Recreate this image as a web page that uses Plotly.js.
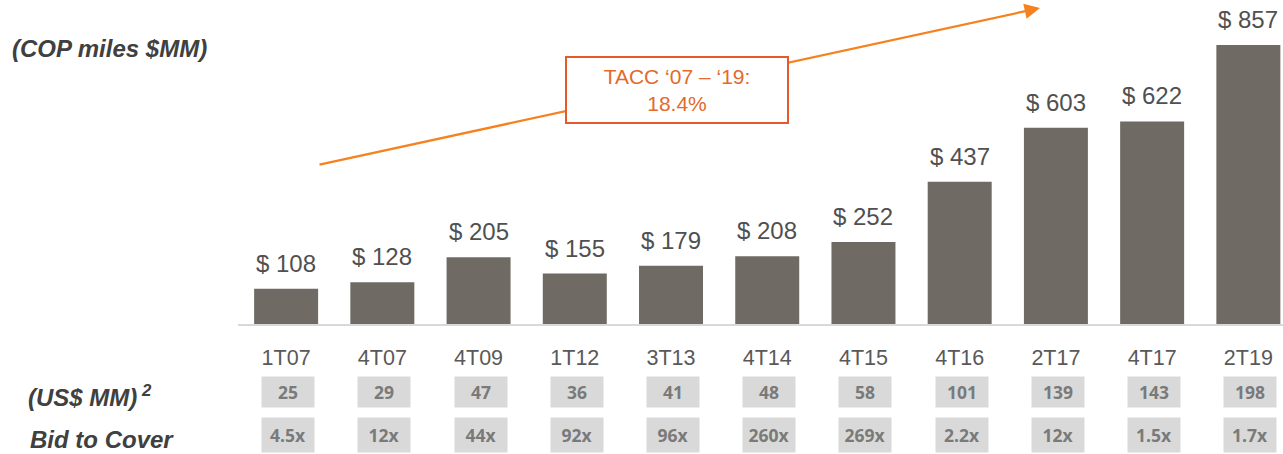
<!DOCTYPE html>
<html><head><meta charset="utf-8">
<script src="https://cdn.plot.ly/plotly-3.0.1.min.js"></script>
<style>body{margin:0;background:#fff}#chart{width:1283px;height:454px}</style>
</head><body><div id="chart"></div>
<script>
const categories = ["1T07","4T07","4T09","1T12","3T13","4T14","4T15","4T16","2T17","4T17","2T19"];
const copValues = [108,128,205,155,179,208,252,437,603,622,857];
const usdValues = ["25","29","47","36","41","48","58","101","139","143","198"];
const bidToCover = ["4.5x","12x","44x","92x","96x","260x","269x","2.2x","12x","1.5x","1.7x"];

const FONT = "Liberation Sans, Arial, sans-serif";
const BOXFONT = {family: "Open Sans, sans-serif", size: 17.5, color: "#7a7a7a"};
const trace = {
  type: "bar", x: categories, y: copValues,
  marker: {color: "#6f6a63"}, width: 0.665,
  hoverinfo: "none"
};

const ann = [];
categories.forEach((c, i) => {
  ann.push({x: c, xref: "x", y: copValues[i], yref: "y", yanchor: "bottom", yshift: 10, showarrow: false,
    text: "$ " + copValues[i], font: {family: FONT, size: 24, color: "#505050"}});
  ann.push({x: c, xref: "x", y: -0.21, yref: "paper", yanchor: "middle", xshift: 2, showarrow: false,
    text: "<b>" + usdValues[i] + "</b>", font: BOXFONT,
    bgcolor: "#d9d9d9", width: 50, height: 28});
  ann.push({x: c, xref: "x", y: -0.343, yref: "paper", yanchor: "middle", xshift: 2, showarrow: false,
    text: "<b>" + bidToCover[i] + "</b>", font: BOXFONT,
    bgcolor: "#d9d9d9", width: 50, height: 32});
});
// left labels
ann.push({x: (10-238)/1045, xref: "paper", y: (324-48)/324, yref: "paper", xanchor: "left", yanchor: "middle",
  showarrow: false, text: "<b><i>(COP miles $MM)</i></b>", font: {family: FONT, size: 24, color: "#404040"}});
ann.push({x: (26-238)/1045, xref: "paper", y: (324-396)/324, yref: "paper", xanchor: "left", yanchor: "middle", showarrow: false,
  text: "<b><i>(US$ MM)<sup> 2</sup></i></b>", font: {family: FONT, size: 24, color: "#404040"}});
ann.push({x: (28-238)/1045, xref: "paper", y: (324-439)/324, yref: "paper", xanchor: "left", yanchor: "middle", showarrow: false,
  text: "<b><i>Bid to Cover</i></b>", font: {family: FONT, size: 24, color: "#404040"}});
// arrow
ann.push({x: (1040-238)/1045, xref: "paper", y: (324-8)/324, yref: "paper", ax: -722, ay: 157,
  showarrow: true, arrowhead: 2, arrowsize: 1.4, arrowwidth: 2.2, arrowcolor: "#f5821f", text: ""});
// TACC box
ann.push({x: (677-238)/1045, xref: "paper", y: (324-90)/324, yref: "paper", xanchor: "center", yanchor: "middle", showarrow: false,
  text: "TACC ‘07 – ‘19:<br>18.4%", font: {family: FONT, size: 21, color: "#e36a2a"},
  bgcolor: "#ffffff", bordercolor: "#e6592b", borderwidth: 2, width: 218, height: 62, valign: "middle"});

const layout = {
  width: 1283, height: 454,
  margin: {l: 238, r: 0, t: 0, b: 130},
  paper_bgcolor: "#fff", plot_bgcolor: "#fff",
  showlegend: false,
  xaxis: {type: "category", range: [-0.5, 10.36], showline: true, linecolor: "#d9d9d9", linewidth: 2,
    showgrid: false, zeroline: false, ticks: "", ticklabelstandoff: 13,
    tickfont: {family: FONT, size: 21.5, color: "#595959"}, fixedrange: true},
  yaxis: {range: [0, 995], visible: false, showgrid: false, zeroline: false, fixedrange: true},
  annotations: ann
};

Plotly.newPlot("chart", [trace], layout, {displayModeBar: false, staticPlot: true});
</script></body></html>
